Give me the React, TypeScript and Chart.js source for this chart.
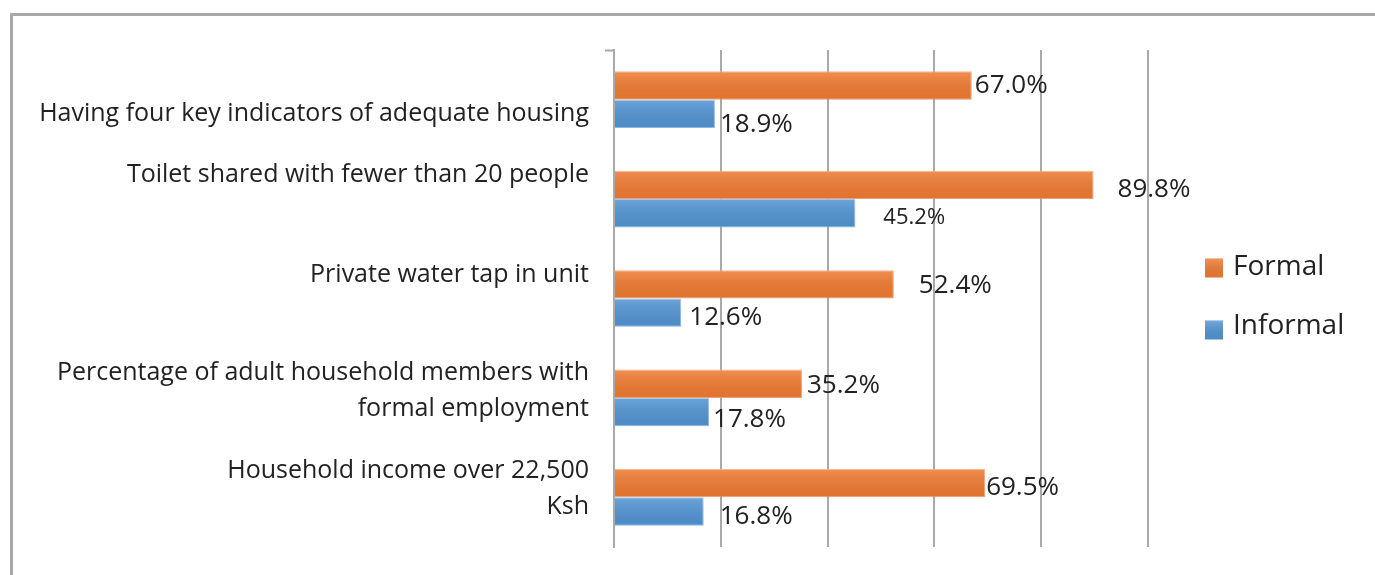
import React, { useEffect, useRef } from "react";
import { Chart, registerables } from "chart.js";

Chart.register(...registerables);

const categories: (string | string[])[] = [
  "Having four key indicators of adequate housing",
  "Toilet shared with fewer than 20 people",
  "Private water tap in unit",
  ["Percentage of adult household members with", "formal employment"],
  ["Household income over 22,500", "Ksh"],
];
const formalValues = [67.0, 89.8, 52.4, 35.2, 69.5];
const informalValues = [18.9, 45.2, 12.6, 17.8, 16.8];
const seriesNames = ["Formal", "Informal"];
const xTicks = [0, 20, 40, 60, 80, 100];

// label placement tweaks (style, not data)
const formalLabelShift = [
  [3, 0, 26],
  [24, 5, 26],
  [25, 1, 26],
  [5, 2, 26],
  [1, 4, 26],
];
const informalLabelShift = [
  [5, 11, 26],
  [28, 4, 22],
  [8, 5, 26],
  [4, 8, 26],
  [16, 5, 26],
];
const categoryLabelShift = [14, -24, -24, -7, -8];

const FONT = "Open Sans, Noto Sans, sans-serif";
const TEXT = "#222222";
const GRID = "#a9a9a9";

export default function App() {
  const ref = useRef<HTMLCanvasElement | null>(null);

  useEffect(() => {
    if (!ref.current) return;

    const overlay = {
      id: "overlay",
      afterDatasetsDraw(chart: any) {
        const ctx = chart.ctx;
        chart.data.datasets.forEach((_: any, di: number) => {
          const meta = chart.getDatasetMeta(di);
          meta.data.forEach((el: any) => {
            const { x, y, base, height } = el.getProps(["x", "y", "base", "height"], true);
            const top = y - height / 2;
            const g = ctx.createLinearGradient(0, top, 0, top + height);
            g.addColorStop(0, "rgba(255,255,255,0.16)");
            g.addColorStop(1, "rgba(0,0,0,0.05)");
            ctx.save();
            ctx.fillStyle = g;
            ctx.fillRect(base, top, x - base, height);
            ctx.restore();
          });
        });
      },
      afterDraw(chart: any) {
        const ctx = chart.ctx;
        const ca = chart.chartArea;
        const yScale = chart.scales.y;
        ctx.save();
        // value labels
        const shifts = [formalLabelShift, informalLabelShift];
        chart.data.datasets.forEach((ds: any, di: number) => {
          const meta = chart.getDatasetMeta(di);
          meta.data.forEach((el: any, i: number) => {
            const [dx, dy, fs] = shifts[di][i];
            ctx.font = `400 ${fs}px ${FONT}`;
            ctx.fillStyle = TEXT;
            ctx.textAlign = "left";
            ctx.textBaseline = "middle";
            ctx.fillText(ds.data[i].toFixed(1) + "%", el.x + dx, el.y + dy);
          });
        });
        // category labels
        ctx.font = `400 25px ${FONT}`;
        ctx.textAlign = "right";
        ctx.textBaseline = "middle";
        chart.data.labels.forEach((lab: any, i: number) => {
          const lines = Array.isArray(lab) ? lab : [lab];
          const cy = yScale.getPixelForTick(i) + categoryLabelShift[i];
          const lh = 36;
          const start = cy - ((lines.length - 1) * lh) / 2;
          lines.forEach((ln: string, k: number) => {
            ctx.fillText(ln, ca.left - 25, start + k * lh);
          });
        });
        // legend
        const lx = ca.right + 57;
        const midY = (ca.top + ca.bottom) / 2;
        const rows = [midY - 31, midY + 28];
        chart.data.datasets.forEach((ds: any, di: number) => {
          const cy = rows[di];
          const sy = cy - 9 + di * 3;
          ctx.fillStyle = ds.backgroundColor;
          ctx.fillRect(lx, sy, 18, 19);
          const g = ctx.createLinearGradient(0, sy, 0, sy + 19);
          g.addColorStop(0, "rgba(255,255,255,0.2)");
          g.addColorStop(1, "rgba(0,0,0,0.05)");
          ctx.fillStyle = g;
          ctx.fillRect(lx, sy, 18, 19);
          ctx.font = `400 28px ${FONT}`;
          ctx.fillStyle = TEXT;
          ctx.textAlign = "left";
          ctx.textBaseline = "middle";
          ctx.fillText(ds.label, lx + 28, cy);
        });
        ctx.restore();
      },
    };

    const chart = new Chart(ref.current, {
      type: "bar",
      data: {
        labels: categories,
        datasets: [
          {
            label: seriesNames[0],
            data: formalValues,
            backgroundColor: "#EF7A31",
            borderColor: "rgba(246,160,110,0.9)",
            borderWidth: 1,
            categoryPercentage: 0.57,
            barPercentage: 1,
          },
          {
            label: seriesNames[1],
            data: informalValues,
            backgroundColor: "#5294D3",
            borderColor: "rgba(140,185,230,0.9)",
            borderWidth: 1,
            categoryPercentage: 0.57,
            barPercentage: 1,
          },
        ],
      },
      options: {
        indexAxis: "y",
        animation: false,
        responsive: false,
        maintainAspectRatio: false,
        layout: { padding: { left: 0, top: 50, right: 227, bottom: 28 } },
        plugins: {
          legend: { display: false },
          tooltip: { enabled: false },
        },
        scales: {
          x: {
            min: xTicks[0],
            max: xTicks[xTicks.length - 1],
            afterBuildTicks: (s: any) => {
              s.ticks = xTicks.map((v) => ({ value: v }));
            },
            ticks: { display: false },
            grid: { color: GRID, lineWidth: 2, drawTicks: false },
            border: { display: false },
            afterFit: (s: any) => {
              s.height = 0;
            },
          },
          y: {
            ticks: { display: false },
            grid: {
              drawOnChartArea: false,
              drawTicks: true,
              tickLength: 9,
              offset: true,
              tickColor: (c: any) =>
                c.index === 0 || c.index === categories.length ? GRID : "rgba(0,0,0,0)",
              tickWidth: 2,
            },
            border: { display: true, color: GRID, width: 2 },
            afterFit: (s: any) => {
              s.width = 614;
            },
          },
        },
      },
      plugins: [overlay],
    });
    return () => chart.destroy();
  }, []);

  return (
    <div style={{ position: "fixed", left: 0, top: 0, width: 1375, height: 575, overflow: "hidden", background: "#fff" }}>
      <div
        style={{
          position: "absolute",
          left: 10,
          top: 13,
          width: 1400,
          height: 700,
          border: "3px solid #a8a8a8",
        }}
      />
      <canvas ref={ref} width={1375} height={575} style={{ position: "absolute", left: 0, top: 0 }} />
    </div>
  );
}
